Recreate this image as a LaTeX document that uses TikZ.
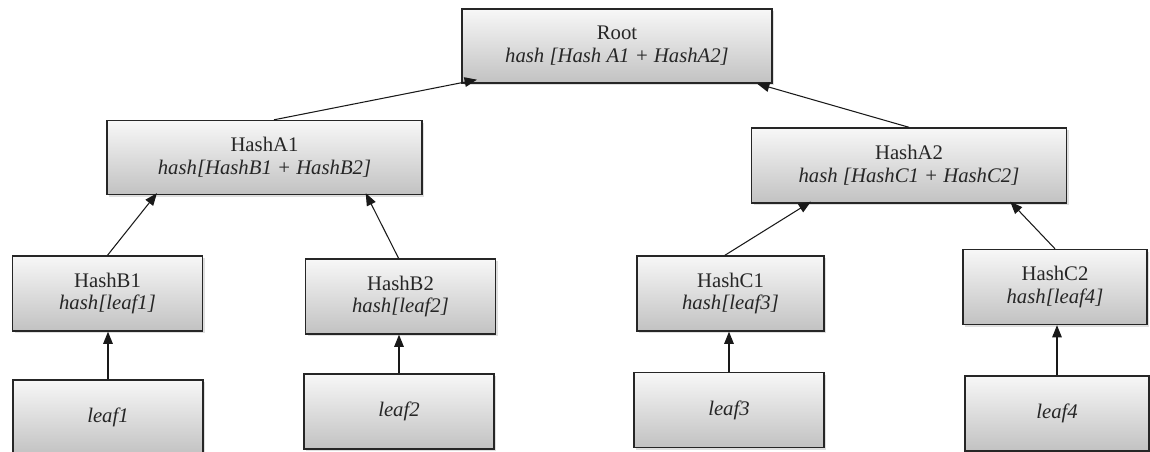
\documentclass[tikz,border=0pt]{standalone}
\usepackage{fontspec}
\setmainfont{Liberation Serif}
\usetikzlibrary{arrows.meta,shadows,calc}

\begin{document}
\begin{tikzpicture}[x=0.02cm, y=-0.02cm,
    hashbox/.style={rectangle, draw=black!85, line width=0.8pt,
        top color=gray!6, bottom color=gray!48,
        drop shadow={opacity=0.25, shadow xshift=1.2pt, shadow yshift=-1.2pt},
        align=center, text=black!85, inner sep=2pt,
        font=\fontsize{11.8}{13}\selectfont},
    wide/.style={minimum width=6.25cm, minimum height=1.48cm},
    small/.style={minimum width=3.8cm, minimum height=1.5cm},
    arrow/.style={draw=black!90, line width=0.6pt, -{Triangle[length=7pt, width=5.5pt]}}]
    \useasboundingbox (0,0) rectangle (1150,452);
    \clip (0,0) rectangle (1150,452);

    % Nodes
    \node[hashbox, wide, minimum width=6.2cm] (root) at (617,46) {Root\\\textit{hash [Hash A1 + HashA2]}};
    \node[hashbox, wide, minimum width=6.3cm] (hashA1) at (264.5,157.5) {HashA1\\\textit{hash[HashB1 + HashB2]}};
    \node[hashbox, wide, minimum width=6.3cm, minimum height=1.5cm] (hashA2) at (909,165.5) {HashA2\\\textit{hash [HashC1 + HashC2]}};

    \node[hashbox, small] (hashB1) at (107.5,293.5) {HashB1\\\textit{hash[leaf1]}};
    \node[hashbox, small] (hashB2) at (400.5,296.5) {HashB2\\\textit{hash[leaf2]}};
    \node[hashbox, small, minimum width=3.74cm] (hashC1) at (730.5,293.5) {HashC1\\\textit{hash[leaf3]}};
    \node[hashbox, small, minimum width=3.68cm] (hashC2) at (1055,287) {HashC2\\\textit{hash[leaf4]}};

    \node[hashbox, small] (leaf1) at (108,417.5) {\textit{leaf1}};
    \node[hashbox, small] (leaf2) at (399,411.5) {\textit{leaf2}};
    \node[hashbox, small] (leaf3) at (729,410) {\textit{leaf3}};
    \node[hashbox, small, minimum width=3.68cm] (leaf4) at (1057,413.5) {\textit{leaf4}};

    % Edges from child to parent
    \path ($(hashA1.north west)!0.53!(hashA1.north east)$) edge[arrow] ($(root.south west)!0.05!(root.south east)+(0,-4)$);
    \path ($(hashA2.north west)!0.50!(hashA2.north east)$) edge[arrow] ($(root.south west)!0.95!(root.south east)$);

    \path ($(hashB1.north west)!0.50!(hashB1.north east)$) edge[arrow] ($(hashA1.south west)!0.16!(hashA1.south east)+(0,-2)$);
    \path ($(hashB2.north west)!0.49!(hashB2.north east)$) edge[arrow] ($(hashA1.south west)!0.82!(hashA1.south east)+(0,-2)$);

    \path ($(hashC1.north west)!0.47!(hashC1.north east)$) edge[arrow] ($(hashA2.south west)!0.19!(hashA2.south east)+(0,-2)$);
    \path ($(hashC2.north west)!0.50!(hashC2.north east)$) edge[arrow] ($(hashA2.south west)!0.82!(hashA2.south east)+(0,-2)$);

    \path (leaf1.north) edge[arrow] (leaf1.north |- hashB1.south);
    \path (leaf2.north) edge[arrow] (leaf2.north |- hashB2.south);
    \path (leaf3.north) edge[arrow] (leaf3.north |- hashC1.south);
    \path (leaf4.north) edge[arrow] (leaf4.north |- hashC2.south);
\end{tikzpicture}
\end{document}
